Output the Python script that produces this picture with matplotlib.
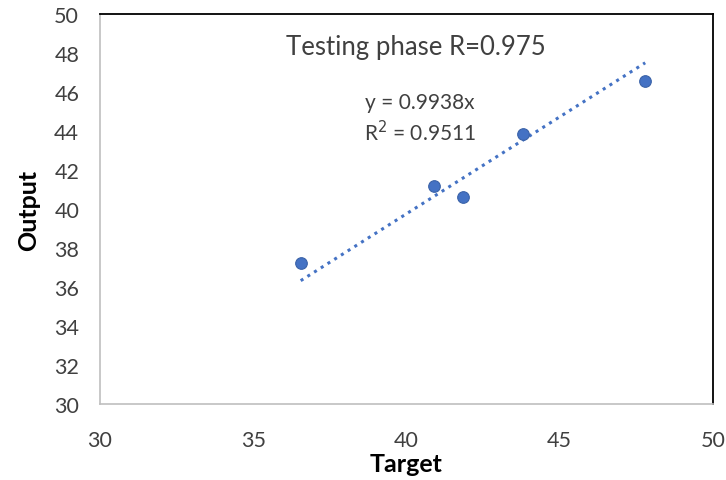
import numpy as np
import matplotlib.pyplot as plt

plt.rcParams['font.family'] = ['Lato', 'DejaVu Sans']

# data
target = [36.55, 40.9, 41.83, 43.8, 47.79]
output = [37.22, 41.19, 40.63, 43.85, 46.55]
slope = 0.9938

fig = plt.figure(figsize=(7.26, 4.81), dpi=100)
ax = fig.add_axes([0.1377, 0.158, 0.8443, 0.811])

# trendline through origin (only drawn over the data range)
xs = np.array([min(target), max(target)])
ax.plot(xs, slope * xs, linestyle=(0, (1, 1.6)), color='#4472C4', linewidth=2.2)

ax.scatter(target, output, s=70, color='#4472C4', edgecolors='#3A62A8',
           linewidths=0.8, zorder=3)

ax.set_xlim(30, 50)
ax.set_ylim(30, 50)
ax.set_xticks(range(30, 51, 5))
ax.set_yticks(range(30, 51, 2))
ax.tick_params(length=0, labelsize=15.5, colors='#404040')
ax.tick_params(axis='x', pad=19)
ax.tick_params(axis='y', pad=15)

for side in ['left', 'bottom']:
    ax.spines[side].set_color('#BFBFBF')
    ax.spines[side].set_linewidth(1.2)
for side in ['top', 'right']:
    ax.spines[side].set_color('black')
    ax.spines[side].set_linewidth(1.3)

ax.set_xlabel('Target', fontsize=18, fontweight='bold')
ax.xaxis.set_label_coords(0.5, -0.122)
ax.set_ylabel('Output', fontsize=18, fontweight='bold', labelpad=10)

ax.text(40.3, 48.35, 'Testing phase R=0.975', fontsize=18.5, color='#404040',
        ha='center', va='center')
ax.text(40.45, 44.65, 'y = 0.9938x\nR$^2$ = 0.9511', fontsize=15, color='#404040',
        ha='center', va='center', linespacing=1.3)

plt.savefig('out.png', dpi=100)
